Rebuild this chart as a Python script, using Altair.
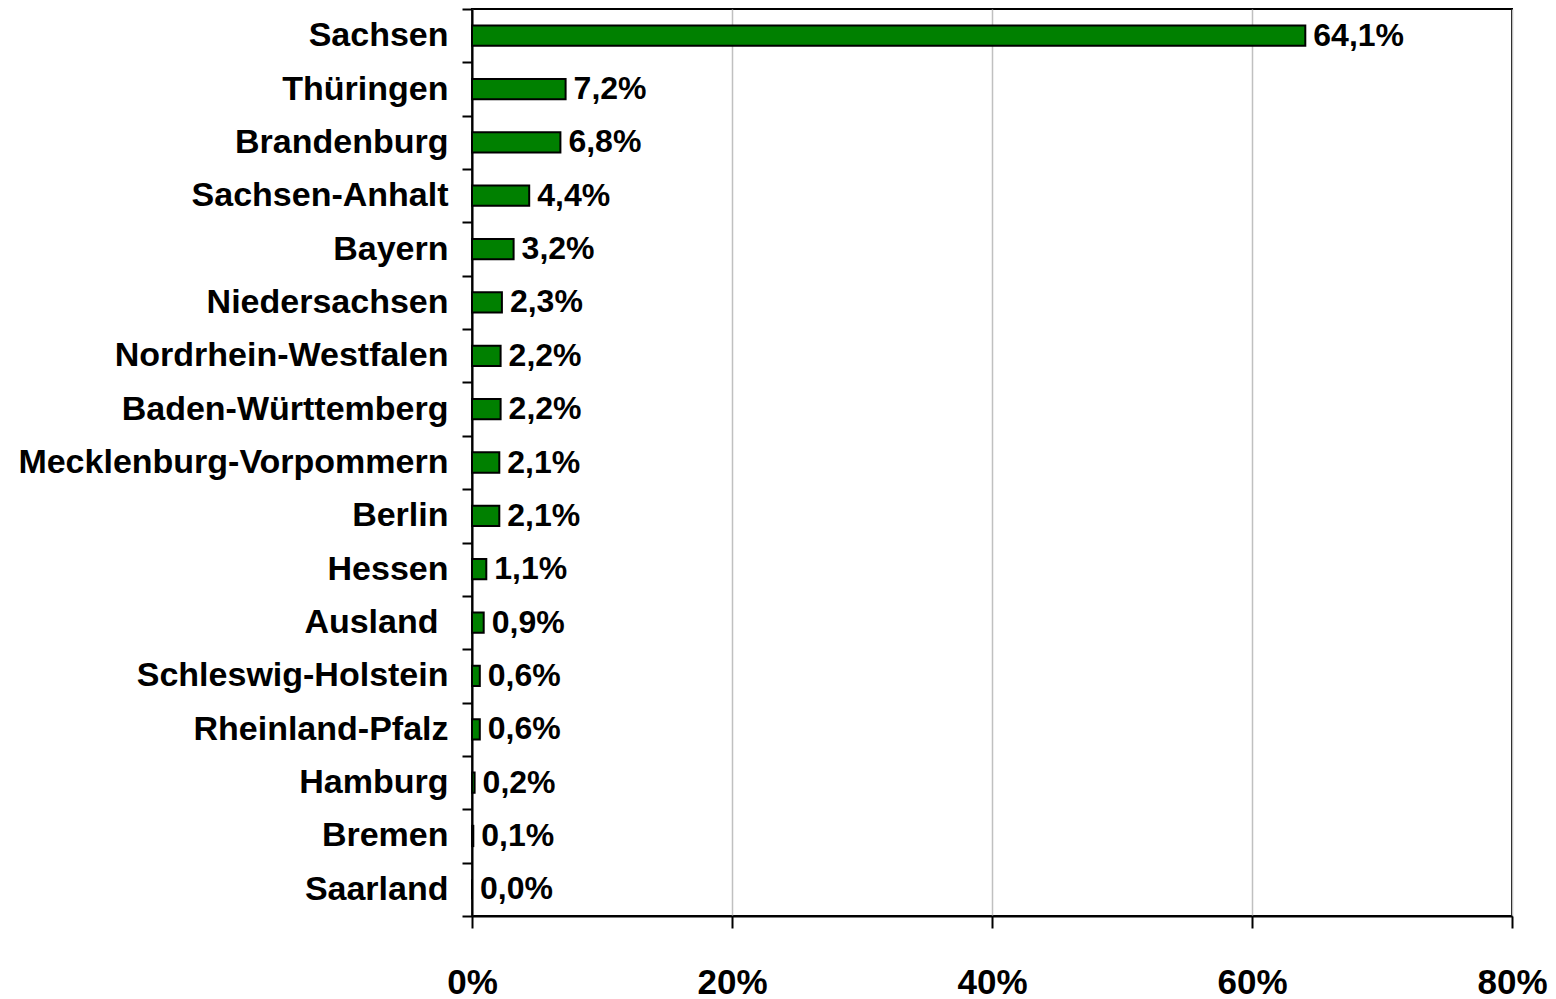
import altair as alt
import pandas as pd

regions = [
    "Sachsen", "Thüringen", "Brandenburg", "Sachsen-Anhalt", "Bayern",
    "Niedersachsen", "Nordrhein-Westfalen", "Baden-Württemberg",
    "Mecklenburg-Vorpommern", "Berlin", "Hessen", "Ausland",
    "Schleswig-Holstein", "Rheinland-Pfalz", "Hamburg", "Bremen", "Saarland",
]
shares = [64.1, 7.2, 6.8, 4.4, 3.2, 2.3, 2.2, 2.2, 2.1, 2.1, 1.1, 0.9, 0.6, 0.6, 0.2, 0.1, 0.0]
x_ticks = [0, 20, 40, 60, 80]

df = pd.DataFrame({"region": regions, "share": shares})

FONT = "Liberation Sans"

y_enc = alt.Y(
    "region:N",
    sort=regions,
    scale=alt.Scale(paddingInner=0, paddingOuter=0),
    axis=alt.Axis(
        title=None, labelFont=FONT, labelFontSize=34, labelFontWeight="bold",
        labelColor="black",
        labelPadding={"condition": {"test": "datum.value === 'Ausland'", "value": 24}, "value": 14},
        labelLimit=800,
        tickSize=10, tickColor="black", tickWidth=2, tickBand="extent",
        domainColor="black", domainWidth=2, grid=False,
    ),
)

x_enc = alt.X(
    "share:Q",
    scale=alt.Scale(domain=[0, 80], nice=False),
    axis=alt.Axis(
        title=None, values=x_ticks, labelExpr="datum.value + '%'",
        labelFont=FONT, labelFontSize=35, labelFontWeight="bold",
        labelColor="black", labelPadding=37, labelFlush=False,
        tickSize=12, tickColor="black", tickWidth=2,
        domainColor="black", domainWidth=2,
        grid=True, gridColor="#c0c0c0", gridWidth=1.5,
    ),
)

base = alt.Chart(df).transform_calculate(
    lab="replace(format(datum.share, '.1f'), '.', ',') + '%'"
)

bars = base.mark_bar(
    color="#008000", stroke="black", strokeWidth=2, height={"band": 0.38}
).encode(x=x_enc, y=y_enc)

text = base.mark_text(
    align="left", baseline="middle", dx=8, font=FONT, fontSize=32,
    fontWeight="bold", color="black",
).encode(x=alt.X("share:Q"), y=alt.Y("region:N", sort=regions), text="lab:N")

chart = (
    alt.layer(bars, text)
    .properties(
        width=1040, height=907,
        autosize=alt.AutoSizeParams(type="none"),
        padding={"left": 464, "top": 1, "right": 36, "bottom": 83},
        background="white",
    )
    .configure_view(stroke="black", strokeWidth=2)
)

chart.save("out.html", embed_options={"renderer": "svg", "actions": False})
